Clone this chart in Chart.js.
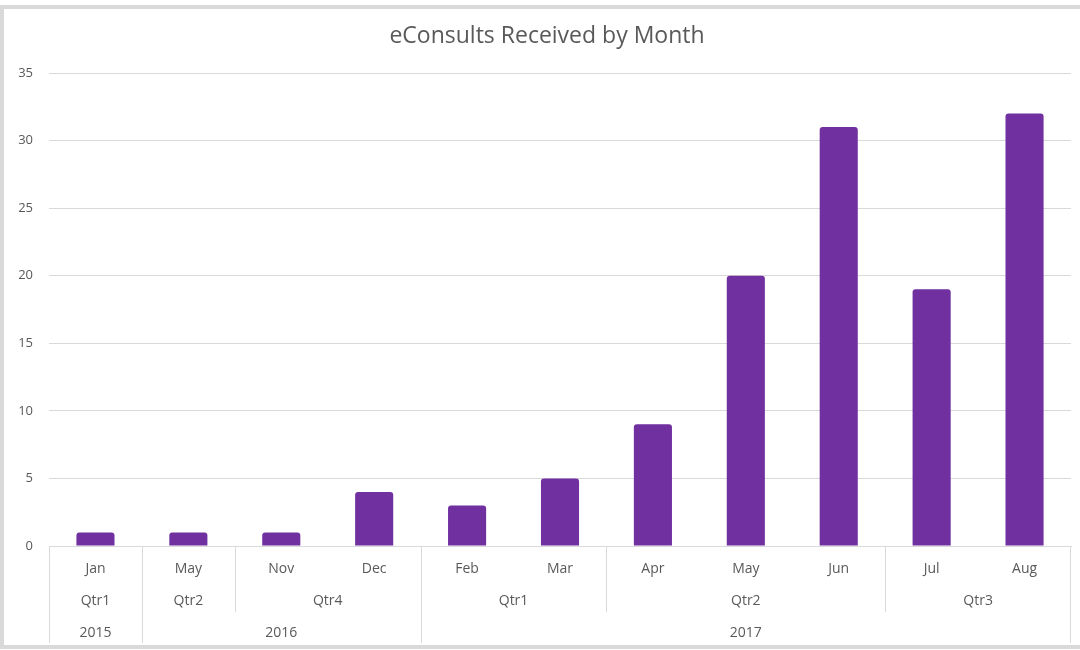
<!DOCTYPE html>
<html>
<head>
<meta charset="utf-8">
<script src="https://cdn.jsdelivr.net/npm/chart.js@4"></script>
<style>
    html, body { margin: 0; padding: 0; background: #fff; }
    #wrap { position: relative; width: 1080px; height: 650px; overflow: hidden; }
    #frame {
        position: absolute; left: 0; top: 5px; width: 1100px; height: 644px;
        box-sizing: border-box; border: 4px solid #d9d9d9;
    }
    #chart { position: absolute; left: 0; top: 0; }
</style>
</head>
<body>
<div id="wrap">
    <div id="frame"></div>
    <canvas id="chart" width="1080" height="650"></canvas>
</div>
<script>
// Chart data
const chartTitle = 'eConsults Received by Month';
const months = ['Jan', 'May', 'Nov', 'Dec', 'Feb', 'Mar', 'Apr', 'May', 'Jun', 'Jul', 'Aug'];
const counts = [1, 1, 1, 4, 3, 5, 9, 20, 31, 19, 32];

// Category groups (how many months each covers)
const quarterLabels = ['Qtr1', 'Qtr2', 'Qtr4', 'Qtr1', 'Qtr2', 'Qtr3'];
const quarterSpans = [1, 1, 2, 2, 3, 2];
const yearLabels = ['2015', '2016', '2017'];
const yearSpans = [1, 3, 7];

const yTicks = [0, 5, 10, 15, 20, 25, 30, 35];

const TEXT = '#595959';
const LINE = '#d9d9d9';
const FONT = '"Open Sans", "Noto Sans", sans-serif';

// Title (slightly right of canvas centre, like the original) and
// the three-row category axis (month / quarter / year)
const groupAxis = {
    id: 'groupAxis',
    afterDraw(chart) {
        const ctx = chart.ctx;
        const x = chart.scales.x;
        const area = chart.chartArea;
        const step = x.getPixelForValue(1) - x.getPixelForValue(0);
        const edge = (i) => x.getPixelForValue(i) - step / 2;

        const rowMonth = area.bottom + 23;
        const rowQtr = area.bottom + 55;
        const rowYear = area.bottom + 87;
        const qtrBottom = area.bottom + 66;
        const yearBottom = area.bottom + 97;

        ctx.save();
        ctx.fillStyle = TEXT;
        ctx.textAlign = 'center';
        ctx.textBaseline = 'middle';

        ctx.font = '23px ' + FONT;
        ctx.fillText(chartTitle, 547, 36);

        ctx.font = '14px ' + FONT;
        months.forEach((m, i) => ctx.fillText(m, x.getPixelForValue(i), rowMonth));

        ctx.strokeStyle = LINE;
        ctx.lineWidth = 1;
        const vline = (px, y2) => {
            ctx.beginPath();
            ctx.moveTo(Math.round(px) + 0.5, area.bottom);
            ctx.lineTo(Math.round(px) + 0.5, y2);
            ctx.stroke();
        };

        // quarters
        let start = 0;
        quarterSpans.forEach((span, k) => {
            const a = edge(start), b = edge(start + span);
            ctx.fillText(quarterLabels[k], (a + b) / 2, rowQtr);
            vline(a, qtrBottom);
            start += span;
        });

        // years
        start = 0;
        yearSpans.forEach((span, k) => {
            const a = edge(start), b = edge(start + span);
            ctx.fillText(yearLabels[k], (a + b) / 2, rowYear);
            vline(a, yearBottom);
            start += span;
        });
        vline(edge(months.length) - 1, yearBottom);
        ctx.restore();
    }
};

const ctx = document.getElementById('chart').getContext('2d');
new Chart(ctx, {
    type: 'bar',
    data: {
        labels: months,
        datasets: [{
            label: 'eConsults',
            data: counts,
            backgroundColor: '#7030a0',
            borderRadius: 3,
            borderSkipped: 'bottom',
            barPercentage: 0.41,
            categoryPercentage: 1
        }]
    },
    options: {
        responsive: false,
        animation: false,
        layout: { padding: { left: 0, right: 9, top: 73, bottom: 96 } },
        plugins: {
            legend: { display: false },
            tooltip: { enabled: false },
            title: { display: false }
        },
        scales: {
            x: {
                ticks: { display: false },
                grid: { display: false },
                border: { color: LINE, width: 1 }
            },
            y: {
                min: 0,
                max: 35,
                afterFit: (s) => { s.width = 49; },
                afterBuildTicks: (s) => { s.ticks = yTicks.map(v => ({ value: v })); },
                ticks: {
                    color: TEXT,
                    padding: 16,
                    font: { family: FONT, size: 13 }
                },
                grid: { color: LINE, drawTicks: false },
                border: { display: false }
            }
        }
    },
    plugins: [groupAxis]
});
</script>
</body>
</html>
